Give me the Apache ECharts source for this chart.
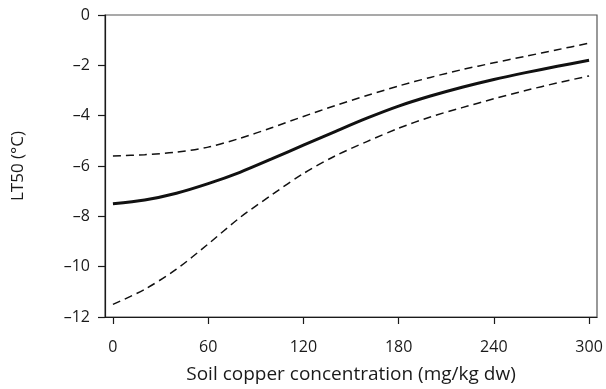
<!DOCTYPE html>
<html>
<head>
<meta charset="utf-8">
<script src="https://cdn.jsdelivr.net/npm/echarts@6/dist/echarts.min.js"></script>
<style>
  html, body { margin: 0; padding: 0; background: #fff; }
  #chart { width: 606px; height: 389px; }
</style>
</head>
<body>
<div id="chart"></div>
<script>
// Soil copper concentration (mg/kg dw)
const copper = [0, 20, 40, 60, 80, 100, 120, 140, 160, 180, 200, 220, 240, 260, 280, 300];
// Fitted LT50 (°C)
const lt50Fit = [-7.5, -7.35, -7.08, -6.7, -6.25, -5.72, -5.17, -4.63, -4.1, -3.62, -3.22, -2.87, -2.56, -2.29, -2.04, -1.8];
// Upper confidence band
const lt50Upper = [-5.6, -5.55, -5.45, -5.25, -4.9, -4.48, -4.03, -3.6, -3.2, -2.82, -2.48, -2.17, -1.9, -1.64, -1.38, -1.12];
// Lower confidence band
const lt50Lower = [-11.5, -10.9, -10.1, -9.1, -8.05, -7.15, -6.3, -5.6, -5.03, -4.5, -4.05, -3.68, -3.33, -3.0, -2.7, -2.42];
// Axis ticks
const xTicks = [0, 60, 120, 180, 240, 300];
const yTicks = [0, -2, -4, -6, -8, -10, -12];

const pairs = (ys) => copper.map((x, i) => [x, ys[i]]);
const font = '"Open Sans", "Noto Sans", sans-serif';
const fmt = (v) => (v < 0 ? '\u2013' + Math.abs(v) : String(v));
const ink = '#1a1a1a';

const chart = echarts.init(document.getElementById('chart'));
chart.setOption({
  animation: false,
  grid: {
    left: 105, right: 9, top: 15, bottom: 72,
    show: true, borderColor: '#555', borderWidth: 1.2
  },
  xAxis: {
    type: 'value', min: -5, max: 305,
    name: 'Soil copper concentration (mg/kg dw)',
    nameLocation: 'middle', nameGap: 48,
    nameTextStyle: { fontFamily: font, fontSize: 19, color: ink },
    axisLine: { show: true, onZero: false, lineStyle: { color: ink, width: 1.2 } },
    axisTick: { show: true, customValues: xTicks, length: 7, lineStyle: { color: ink, width: 1.2 } },
    axisLabel: { customValues: xTicks, margin: 22, fontFamily: font, fontSize: 16, color: ink },
    splitLine: { show: false }
  },
  yAxis: {
    type: 'value', min: -12, max: 0, interval: 2,
    name: 'LT50 (°C)',
    nameLocation: 'middle', nameGap: 78,
    nameTextStyle: { fontFamily: font, fontSize: 17, color: ink },
    axisLine: { show: true, onZero: false, lineStyle: { color: ink, width: 1.2 } },
    axisTick: { show: true, customValues: yTicks, length: 7, lineStyle: { color: ink, width: 1.2 } },
    axisLabel: { customValues: yTicks, margin: 15, fontFamily: font, fontSize: 16, color: ink, formatter: fmt },
    splitLine: { show: false }
  },
  series: [
    {
      name: 'Upper', type: 'line', data: pairs(lt50Upper), smooth: 0.3, symbol: 'none',
      lineStyle: { color: '#111', width: 1.5, type: [8, 5] }
    },
    {
      name: 'Fit', type: 'line', data: pairs(lt50Fit), smooth: 0.3, symbol: 'none',
      lineStyle: { color: '#111', width: 3 }
    },
    {
      name: 'Lower', type: 'line', data: pairs(lt50Lower), smooth: 0.3, symbol: 'none',
      lineStyle: { color: '#111', width: 1.5, type: [8, 5] }
    }
  ]
});
</script>
</body>
</html>
